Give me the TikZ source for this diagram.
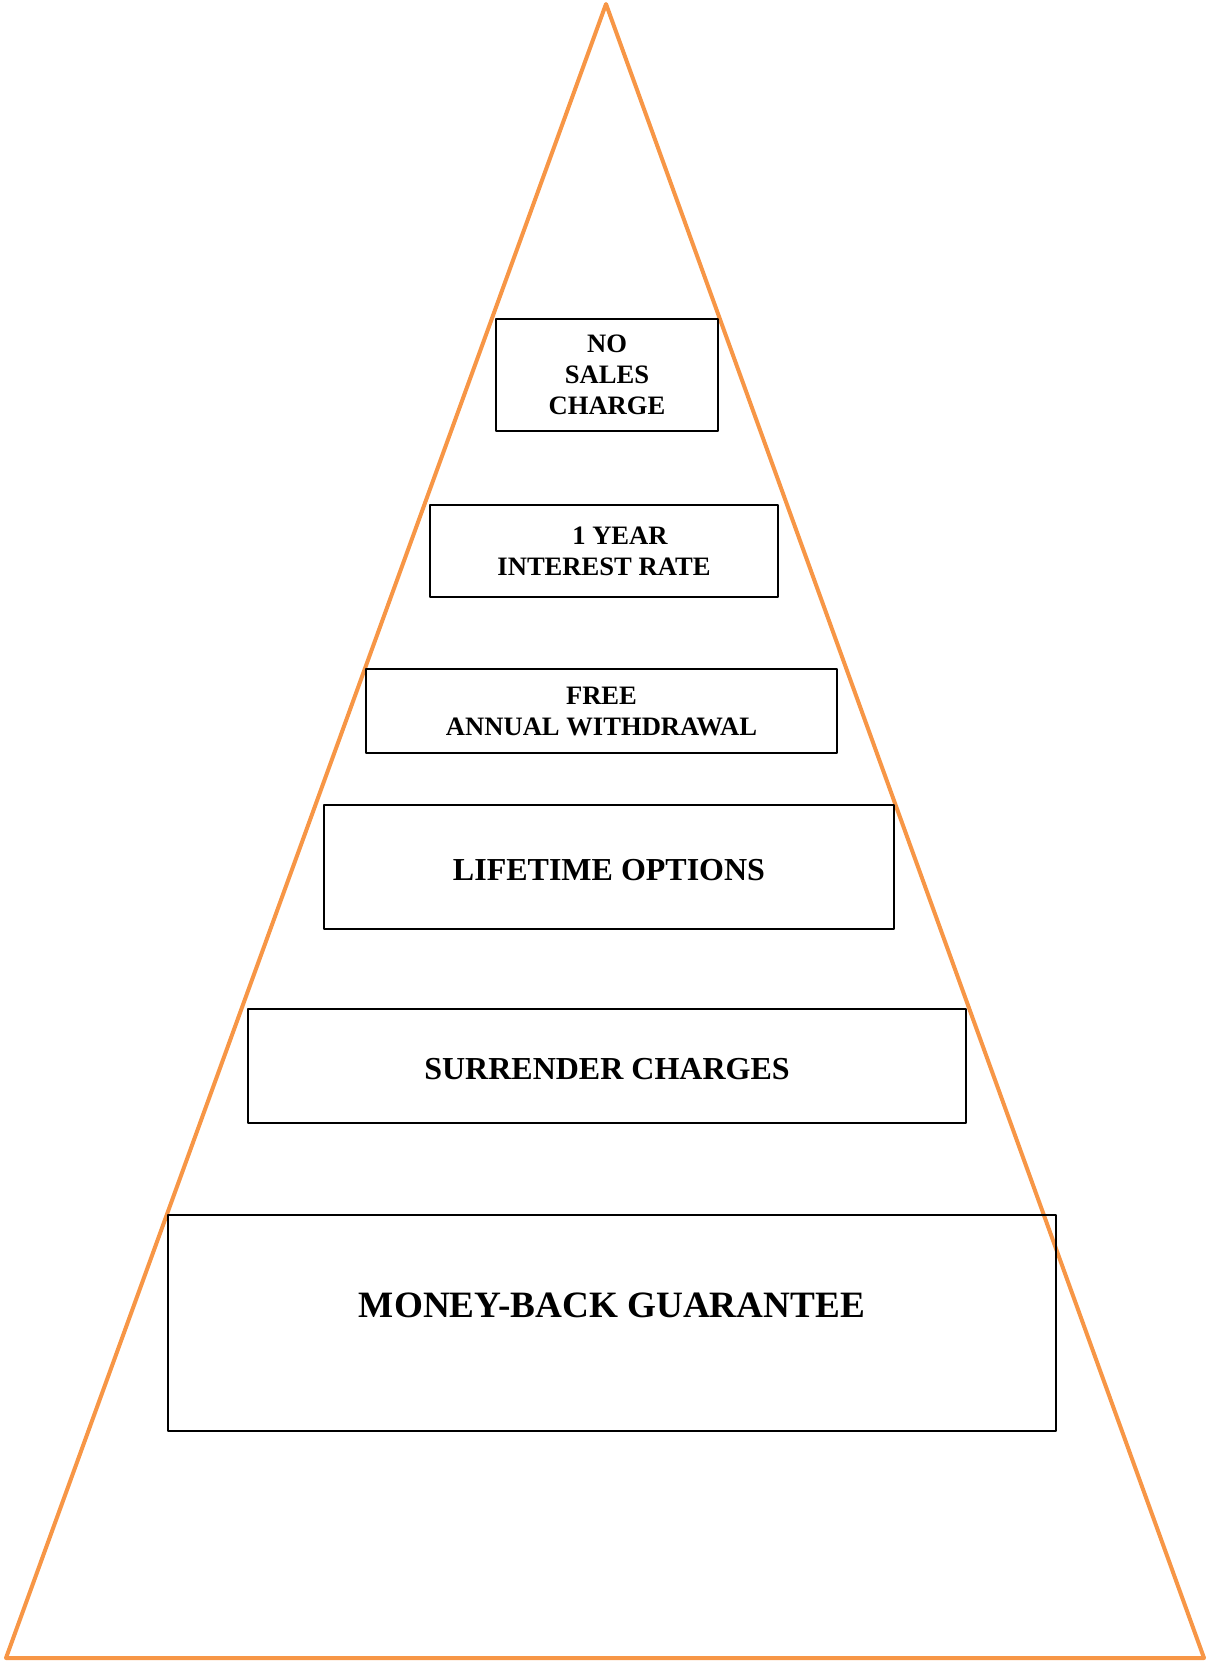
\documentclass[tikz,border=0pt]{standalone}
\usepackage{fontspec}
\setmainfont{Liberation Serif}
\definecolor{pyrorange}{HTML}{F79646}
\tikzset{
  tier/.style={draw=black, line width=1pt, align=center, font=\bfseries, inner sep=0pt},
  smalltier/.style={tier, font=\fontsize{13.3}{15.5}\selectfont\bfseries},
  bigtier/.style={tier, font=\fontsize{16}{19}\selectfont\bfseries, text height=13.5pt}
}
\begin{document}
\begin{tikzpicture}[x=0.5pt, y=-0.5pt, line join=round, line cap=round]
\useasboundingbox (0,0) rectangle (1207,1663);
\draw [pyrorange, line width=2pt] (606,4) -- (6,1658) -- (1204,1658) -- cycle;
\node [smalltier, minimum width=111pt, minimum height=56pt] (nosales) at (607,375) {NO\\SALES\\CHARGE};
\node [smalltier, minimum width=174pt, minimum height=46pt] (rate) at (604,551) {\hspace*{16pt}1 YEAR\\INTEREST RATE};
\node [smalltier, minimum width=235.5pt, minimum height=42pt] (free) at (601.5,711) {FREE\\ANNUAL WITHDRAWAL};
\node [bigtier, minimum width=285pt, minimum height=62pt] (lifetime) at (609,867) {LIFETIME OPTIONS};
\node [bigtier, minimum width=359pt, minimum height=57pt] (surrender) at (607,1066) {SURRENDER CHARGES};
\node [tier, minimum width=444pt, minimum height=108pt] (money) at (612,1323) {};
\node [font=\fontsize{18.6}{22}\selectfont\bfseries] (moneytext) at (612,1305) {MONEY-BACK GUARANTEE};
\end{tikzpicture}
\end{document}
